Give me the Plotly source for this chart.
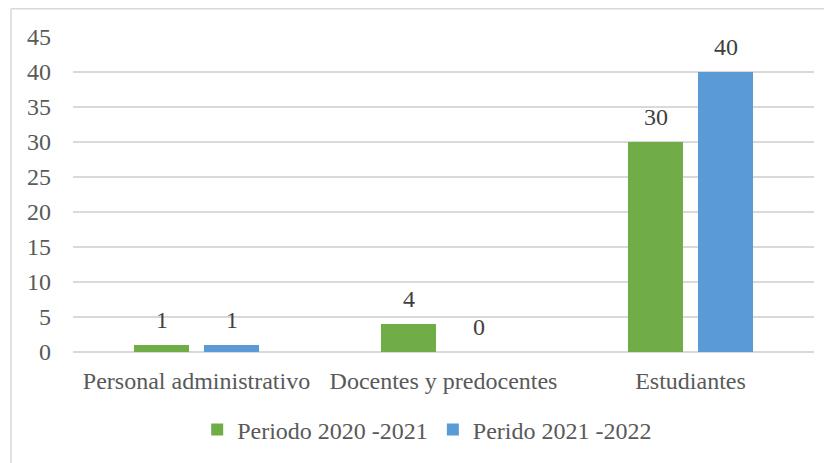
import plotly.graph_objects as go

categories = ["Personal administrativo", "Docentes y predocentes", "Estudiantes"]
series_names = ["Periodo 2020 -2021", "Perido 2021 -2022"]
values_2020 = [1, 4, 30]
values_2021 = [1, 0, 40]
y_ticks = [0, 5, 10, 15, 20, 25, 30, 35, 40, 45]

colors = ["#70AD47", "#5B9BD5"]
font_family = "Liberation Serif, Times New Roman, serif"
text_color = "#595959"
FS = 24

L, T, PW, PH = 65, 29, 741, 315
W, H = 832, 463

fig = go.Figure()
for name, vals, col in zip(series_names, [values_2020, values_2021], colors):
    fig.add_trace(go.Bar(
        x=categories, y=vals, name=name,
        marker=dict(color=col, line=dict(width=0)),
    ))

annotations = []
for shift, vals in zip([-35, 35], [values_2020, values_2021]):
    for c, v in zip(categories, vals):
        annotations.append(dict(
            x=c, y=v, xref="x", yref="y", text=str(v), showarrow=False,
            xshift=shift, yshift=10, yanchor="bottom",
            font=dict(family=font_family, size=FS, color="#404040"),
        ))

fig.update_layout(
    width=W, height=H,
    margin=dict(l=L, r=W - L - PW, t=T, b=H - T - PH),
    paper_bgcolor="white", plot_bgcolor="white",
    barmode="group", bargap=0.433, bargroupgap=0.214,
    font=dict(family=font_family, size=FS, color=text_color),
    showlegend=True,
    legend=dict(orientation="h", x=0.478, xanchor="center", y=-0.2475, yanchor="middle",
                font=dict(family=font_family, size=FS, color=text_color),
                itemwidth=30, tracegroupgap=0),
    xaxis=dict(showgrid=False, showline=False, ticks="", ticklabelstandoff=12,
               tickfont=dict(family=font_family, size=FS, color=text_color)),
    yaxis=dict(range=[0, 45], tickvals=y_ticks, showgrid=True, gridcolor="#D9D9D9",
               gridwidth=1.5, zeroline=True, zerolinecolor="#D9D9D9", zerolinewidth=1.5,
               showline=False, ticks="", ticklabelstandoff=21,
               tickfont=dict(family=font_family, size=FS, color=text_color)),
    annotations=annotations,
    shapes=[
        dict(type="line", xref="paper", yref="paper",
             x0=(3 - L) / PW, x1=(W - L) / PW,
             y0=(T + PH - 0.75) / PH, y1=(T + PH - 0.75) / PH,
             line=dict(color="#D9D9D9", width=1.5)),
        dict(type="line", xref="paper", yref="paper",
             x0=(3 - L) / PW, x1=(3 - L) / PW,
             y0=(T + PH - 0.75) / PH, y1=(T + PH - H) / PH,
             line=dict(color="#D9D9D9", width=1.5)),
    ],
)

fig.write_html("out.html")
